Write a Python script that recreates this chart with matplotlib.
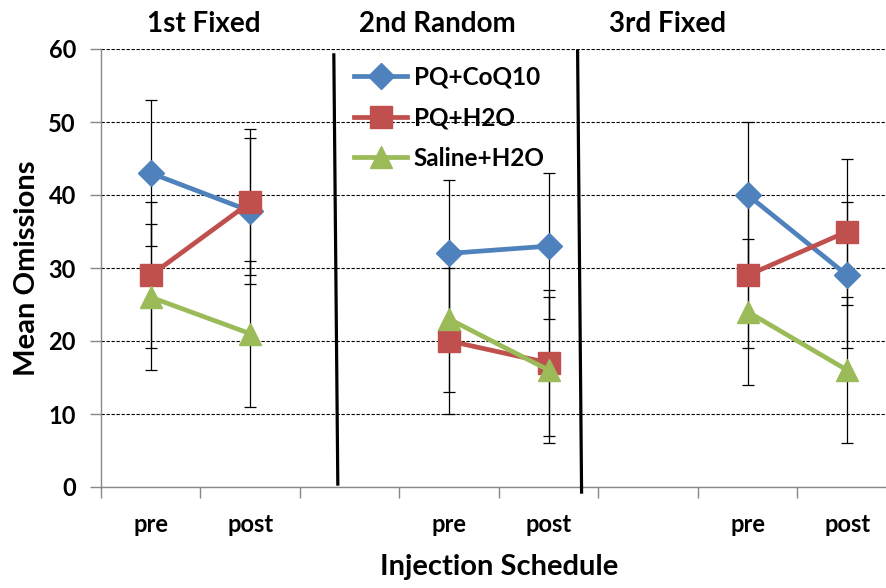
import matplotlib
matplotlib.use("Agg")
import matplotlib.pyplot as plt
import numpy as np

plt.rcParams['font.family'] = ['Lato', 'DejaVu Sans']
plt.rcParams['font.weight'] = 'bold'

# ---- data ----
categories = ["pre", "post", "", "pre", "post", "", "pre", "post"]
series_names = ["PQ+CoQ10", "PQ+H2O", "Saline+H2O"]
pq_coq10 = [43, 37.8, np.nan, 32, 33, np.nan, 40, 29]
pq_h2o = [29, 39, np.nan, 20, 17, np.nan, 29, 35]
saline_h2o = [26, 21, np.nan, 23, 16, np.nan, 24, 16]
err_coq10 = [10, 10, np.nan, 10, 10, np.nan, 10, 10]
err_h2o = [10, 10, np.nan, 10, 10, np.nan, 10, 10]
err_saline = [10, 10, np.nan, 10, 10, np.nan, 10, 10]
phase_titles = ["1st Fixed", "2nd Random", "3rd Fixed"]
yticks = [0, 10, 20, 30, 40, 50, 60]

colors = ["#4F81BD", "#C0504D", "#9BBB59"]
markers = ["D", "s", "^"]
msizes = [13, 15.5, 16.5]

W, H = 887, 588
fig = plt.figure(figsize=(W / 100, H / 100), dpi=100)
ax = fig.add_axes([101 / W, (H - 487) / H, 796 / W, 438 / H])

x = np.arange(len(categories))
vals = [pq_coq10, pq_h2o, saline_h2o]
errs = [err_coq10, err_h2o, err_saline]

for v, e in zip(vals, errs):
    ax.errorbar(x, v, yerr=e, fmt='none', ecolor='black', elinewidth=0.9,
                capsize=4.5, capthick=0.9, zorder=3)

for v, name, c, m, ms in zip(vals, series_names, colors, markers, msizes):
    ax.plot(x, v, color=c, marker=m, markersize=ms, linewidth=3.4,
            label=name, zorder=4)

ax.set_xlim(-0.5, len(categories) - 0.5)
ax.set_ylim(0, 60)
ax.set_yticks(yticks)
ax.set_yticklabels([str(t) for t in yticks], fontsize=17, fontweight='bold')
ax.set_xticks(x)
ax.set_xticklabels(categories, fontsize=17, fontweight='bold')
ax.set_xticks(np.arange(-0.5, len(categories) + 0.5, 1), minor=True)
ax.tick_params(axis='x', which='major', length=0, pad=19)
ax.tick_params(axis='x', which='minor', length=8, color='#888888', width=1)
ax.tick_params(axis='y', which='major', length=8, color='#888888', width=1, pad=10)

ax.yaxis.grid(True, linestyle=(0, (3, 1.5)), color='black', linewidth=0.8)
ax.set_axisbelow(True)
for s in ['top', 'right']:
    ax.spines[s].set_visible(False)
for s in ['left', 'bottom']:
    ax.spines[s].set_color('#888888')
    ax.spines[s].set_linewidth(1)

ax.set_xlabel("Injection Schedule", fontsize=21, fontweight='bold', labelpad=13)
ax.set_ylabel("Mean Omissions", fontsize=21, fontweight='bold', labelpad=6)

# phase separators
sep_x = [(1.84, 1.88), (4.29, 4.33)]
sep_y = [(59.2, 0.4), (59.7, -0.7)]
for sx, sy in zip(sep_x, sep_y):
    ax.plot(sx, sy, color='black', linewidth=2.3, clip_on=False, zorder=5)

# phase titles
title_x = [204, 437, 668]
for t, px in zip(phase_titles, title_x):
    fig.text(px / W, 1 - 24 / H, t, ha='center', va='center',
             fontsize=20, fontweight='bold')

leg = ax.legend(loc='upper left', bbox_to_anchor=(354 / W, 1 - 66 / H),
                bbox_transform=fig.transFigure, frameon=False,
                fontsize=17.5, handlelength=2.2, handletextpad=0.25,
                labelspacing=0.72, borderpad=0, borderaxespad=0)
for t in leg.get_texts():
    t.set_fontweight('bold')

fig.savefig("out.png", dpi=100)
